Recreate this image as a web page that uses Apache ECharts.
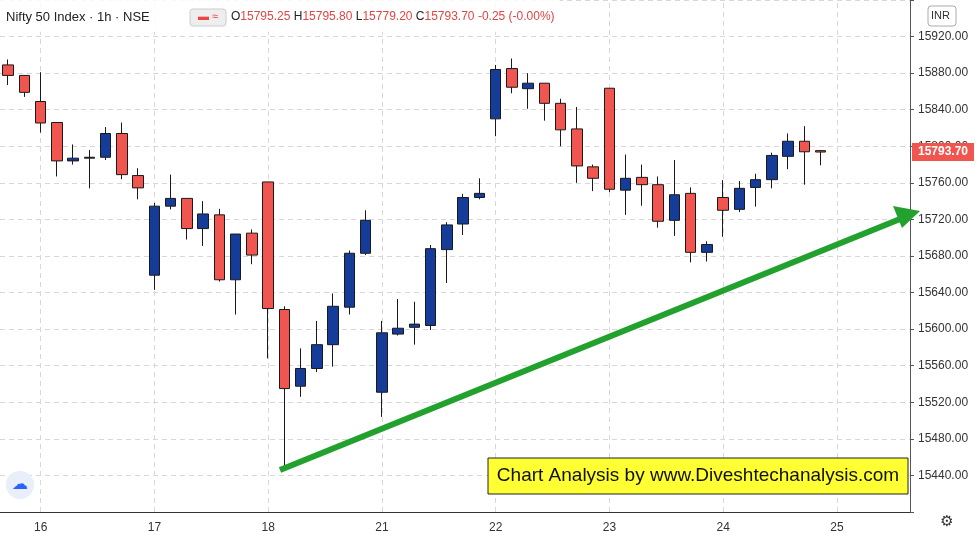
<!DOCTYPE html>
<html><head><meta charset="utf-8">
<script src="https://cdn.jsdelivr.net/npm/echarts@6/dist/echarts.min.js"></script>
<style>html,body{margin:0;padding:0;background:#fff}#c{width:977px;height:535px}</style>
</head><body><div id="c"></div>
<script>
// [open, close, low, high]
const dayLabels = ['', '', '16','','','','','','', '17','','','','','','', '18','','','','','','', '21','','','','','','', '22','','','','','','', '23','','','','','','', '24','','','','','','', '25','','','',''];
const opens  = [15889,15877.5,15849,15826,15784,15787,15788,15814,15768, 15659,15734.5,15743,15710,15725,15654,15705, 15761,15621.5,15537.6,15557,15583,15624,15683, 15531,15594.6,15602,15604,15687,15715,15744, 15830,15885,15863,15869,15847,15819,15777.5, 15863.5,15752,15766,15758,15719,15748.5,15684, 15744,15731,15755,15763.5,15789,15805.5,15795.25];
const closes = [15877.5,15859,15825.5,15784,15787,15788,15814,15769,15754.5, 15734.5,15743,15710,15726,15654,15704,15681, 15622.5,15535,15557,15583,15625,15683,15719, 15596,15601,15605.5,15688,15714,15744,15748.5, 15884,15864.6,15869,15847,15818,15778.5,15765, 15753,15765,15758,15718,15747,15684,15692.5, 15730,15754,15763.5,15790,15805.5,15794,15793.7];
const lows   = [15867,15854,15815,15767,15780,15754,15785,15764,15742, 15643,15731,15698,15691,15652,15616,15671, 15568,15447.5,15526,15553,15559,15616,15681, 15504,15593,15583,15599,15650.5,15703,15742, 15811,15858,15841,15828,15800,15760,15751, 15750,15725,15735,15711,15702,15673,15674, 15701,15728,15734,15754,15775,15758,15779.2];
const highs  = [15895,15877.5,15881,15826,15802,15796,15821,15826,15776, 15738,15769,15743,15740,15731.5,15704,15709, 15761,15625,15579,15609,15639,15686,15730, 15609,15633,15630,15692,15717,15748,15765, 15889,15896,15880,15869,15852,15843,15780, 15863.5,15791,15780,15767,15785,15755,15696, 15763,15762,15770,15793,15814,15822,15795.8];
const yTicks = [15440,15480,15520,15560,15600,15640,15680,15720,15760,15800,15840,15880,15920];
const lastPrice = 15793.7;

const data = opens.map((o,i)=>[o,closes[i],lows[i],highs[i]]);
const chart = echarts.init(document.getElementById('c'));
const F = 'Liberation Sans, Arial, sans-serif';
const dayLines = dayLabels.map((v,i)=>v!==''?{xAxis:i}:null).filter(Boolean);
chart.setOption({
  animation:false,
  grid:{left:-5,right:67,top:-8,bottom:23},
  xAxis:{type:'category',data:dayLabels,boundaryGap:true,
    axisLine:{show:true,lineStyle:{color:'#333'}},axisTick:{show:false},
    axisLabel:{interval:(i,v)=>v!=='',color:'#333',fontSize:12,fontFamily:F,margin:10},
    splitLine:{show:false}},
  yAxis:{type:'value',position:'right',min:15400,max:15960,interval:40,
    axisLine:{show:true,lineStyle:{color:'#555'}},axisTick:{show:true,length:4,lineStyle:{color:'#555'}},
    axisLabel:{color:'#333',fontSize:12,fontFamily:F,margin:8,
      formatter:v=>yTicks.includes(v)?v.toFixed(2):''},
    splitLine:{lineStyle:{color:'#d8d8d8',type:[5,4]}}},
  series:[{type:'candlestick',data:data,barWidth:11,
    itemStyle:{color:'#163c9a',color0:'#f0564f',borderColor:'#1a1a1a',borderColor0:'#1a1a1a',borderWidth:1},
    markLine:{symbol:'none',silent:true,label:{show:false},z:0,
      lineStyle:{color:'#d8d8d8',type:[5,4],width:1},data:dayLines}
  }]
});
const py = chart.convertToPixel({yAxisIndex:0}, lastPrice);
chart.setOption({graphic:[
    {type:'line',z:100,shape:{x1:280,y1:470,x2:905,y2:217},style:{stroke:'#23a12e',lineWidth:6}},
    {type:'polygon',z:100,shape:{points:[[920,211],[893,206],[902,228]]},style:{fill:'#23a12e'}},
    {type:'rect',z:100,shape:{x:488,y:458,width:420,height:36},style:{fill:'#ffff33',stroke:'#222',lineWidth:1}},
    {type:'text',z:101,x:698,y:476,style:{text:'Chart Analysis by www.Diveshtechanalysis.com',font:'19px '+F,fill:'#111',align:'center',verticalAlign:'middle'}},
    {type:'rect',z:100,shape:{x:912,y:py-9,width:62,height:18},style:{fill:'#f0564f'}},
    {type:'text',z:101,x:943,y:py,style:{text:lastPrice.toFixed(2),font:'bold 12px '+F,fill:'#fff',align:'center',verticalAlign:'middle'}},
    {type:'rect',z:100,shape:{x:0,y:0,width:560,height:32},style:{fill:'rgba(255,255,255,0.85)'}},
    {type:'text',z:101,x:6,y:17,style:{text:'Nifty 50 Index · 1h · NSE',font:'13px '+F,fill:'#222',verticalAlign:'middle'}},
    {type:'rect',z:101,shape:{x:190,y:9,width:36,height:17,r:3},style:{fill:'#eee',stroke:'#ccc'}},
    {type:'text',z:102,x:208,y:17,style:{text:'▬ ≈',font:'11px '+F,fill:'#e44',align:'center',verticalAlign:'middle'}},
    {type:'text',z:101,x:231,y:17,style:{rich:{l:{fill:'#222',font:'12px '+F},v:{fill:'#e04545',font:'12px '+F}},
      text:'{l|O}{v|15795.25} {l|H}{v|15795.80} {l|L}{v|15779.20} {l|C}{v|15793.70 -0.25 (-0.00%)}',verticalAlign:'middle'}},
    {type:'rect',z:100,shape:{x:928,y:6,width:28,height:20,r:3},style:{fill:'#fff',stroke:'#aaa'}},
    {type:'text',z:101,x:931,y:16,style:{text:'INR',font:'11px '+F,fill:'#333',verticalAlign:'middle'}},
    {type:'circle',z:100,shape:{cx:20,cy:485,r:14},style:{fill:'#e8eefa'}},
    {type:'text',z:101,x:20,y:485,style:{text:'☁',font:'16px DejaVu Sans',fill:'#2962ff',align:'center',verticalAlign:'middle'}},
    {type:'text',z:101,x:947,y:522,style:{text:'⚙',font:'15px DejaVu Sans',fill:'#333',align:'center',verticalAlign:'middle'}}
]});
</script></body></html>
